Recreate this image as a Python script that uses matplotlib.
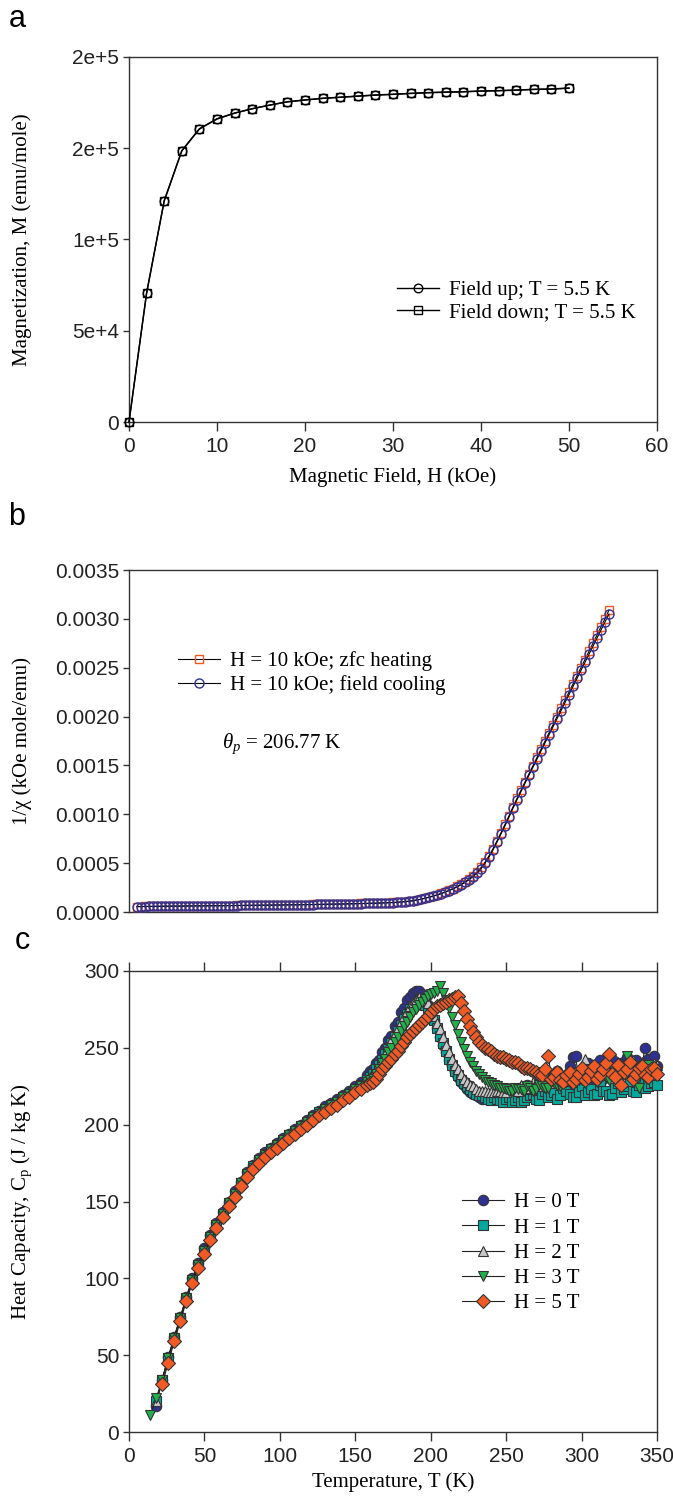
import numpy as np
import matplotlib
matplotlib.use("Agg")
import matplotlib.pyplot as plt
from matplotlib.font_manager import FontProperties

plt.rcParams['font.family'] = ['Liberation Sans', 'DejaVu Sans']
plt.rcParams['mathtext.fontset'] = 'custom'
plt.rcParams['mathtext.rm'] = 'Liberation Serif'
plt.rcParams['mathtext.it'] = 'Liberation Serif:italic'
plt.rcParams['mathtext.bf'] = 'Liberation Serif:bold'

# ---------------- Panel a data ----------------
H_field = [0, 2, 4, 6, 8, 10, 12, 14, 16, 18, 20, 22, 24, 26, 28, 30, 32, 34, 36,
           38, 40, 42, 44, 46, 48, 50]
M_up = [0, 70500, 121000, 148500, 160500, 166000, 169200, 171600, 173600, 175400,
        176400, 177300, 177900, 178500, 179100, 179500, 180000, 180400, 180700,
        180900, 181300, 181500, 181800, 182200, 182400, 182900]
M_down = [0, 70800, 121300, 148700, 160700, 166200, 169300, 171700, 173700, 175500,
          176500, 177400, 178000, 178600, 179200, 179600, 180100, 180500, 180800,
          181000, 181400, 181600, 181900, 182300, 182500, 183000]
a_yticklabels = ["0", "5e+4", "1e+5", "2e+5", "2e+5"]

# ---------------- Panel b data ----------------
T_b = [5, 7.5, 10, 12.5, 15, 17.5, 20, 22.5, 25, 27.5,
       30, 32.5, 35, 37.5, 40, 42.5, 45, 47.5, 50, 52.5,
       55, 57.5, 60, 62.5, 65, 67.5, 70, 72.5, 75, 77.5,
       80, 82.5, 85, 87.5, 90, 92.5, 95, 97.5, 100, 102.5,
       105, 107.5, 110, 112.5, 115, 117.5, 120, 122.5, 125, 127.5,
       130, 132.5, 135, 137.5, 140, 142.5, 145, 147.5, 150, 152.5,
       155, 157.5, 160, 162.5, 165, 167.5, 170, 172.5, 175, 177.5,
       180, 182.5, 185, 187.5, 190, 192.5, 195, 197.5, 200, 202.5,
       205, 207.5, 210, 212.5, 215, 217.5, 220, 222.5, 225, 227.5,
       230, 232.5, 235, 237.5, 240, 242.5, 245, 247.5, 250, 252.5,
       255, 257.5, 260, 262.5, 265, 267.5, 270, 272.5, 275, 277.5,
       280, 282.5, 285, 287.5, 290, 292.5, 295, 297.5, 300]
# 1/chi in units of 1e-4 kOe mole/emu
inv_chi_zfc_e4 = [0.56, 0.56, 0.57, 0.57, 0.58, 0.58, 0.59, 0.59, 0.60, 0.60,
                  0.61, 0.61, 0.61, 0.62, 0.62, 0.63, 0.63, 0.63, 0.64, 0.64,
                  0.65, 0.65, 0.65, 0.66, 0.66, 0.67, 0.67, 0.68, 0.68, 0.69,
                  0.69, 0.70, 0.70, 0.71, 0.71, 0.72, 0.72, 0.73, 0.73, 0.74,
                  0.74, 0.75, 0.76, 0.76, 0.77, 0.78, 0.78, 0.79, 0.80, 0.81,
                  0.81, 0.82, 0.83, 0.84, 0.85, 0.86, 0.87, 0.88, 0.89, 0.90,
                  0.91, 0.93, 0.94, 0.96, 0.98, 1.00, 1.03, 1.07, 1.11, 1.17,
                  1.24, 1.32, 1.42, 1.53, 1.64, 1.76, 1.90, 2.05, 2.22, 2.40,
                  2.61, 2.84, 3.09, 3.38, 3.71, 4.10, 4.56, 5.10, 5.75, 6.48,
                  7.28, 8.12, 8.97, 9.85, 10.76, 11.62, 12.47, 13.31, 14.15, 14.99,
                  15.82, 16.66, 17.49, 18.33, 19.16, 20.00, 20.83, 21.67, 22.50, 23.34,
                  24.17, 25.01, 25.84, 26.68, 27.51, 28.35, 29.18, 30.02, 30.90]
inv_chi_fc_e4 = [0.55, 0.56, 0.56, 0.57, 0.57, 0.58, 0.58, 0.59, 0.59, 0.60,
                 0.60, 0.60, 0.61, 0.61, 0.62, 0.62, 0.62, 0.63, 0.63, 0.64,
                 0.64, 0.64, 0.65, 0.65, 0.66, 0.66, 0.67, 0.67, 0.68, 0.68,
                 0.69, 0.69, 0.70, 0.70, 0.71, 0.71, 0.72, 0.72, 0.73, 0.73,
                 0.74, 0.74, 0.75, 0.76, 0.76, 0.77, 0.78, 0.78, 0.79, 0.80,
                 0.81, 0.81, 0.82, 0.83, 0.84, 0.85, 0.86, 0.87, 0.88, 0.89,
                 0.90, 0.92, 0.93, 0.95, 0.97, 0.99, 1.02, 1.06, 1.10, 1.15,
                 1.22, 1.30, 1.40, 1.50, 1.61, 1.73, 1.87, 2.02, 2.18, 2.36,
                 2.56, 2.78, 3.02, 3.30, 3.62, 4.00, 4.45, 4.98, 5.62, 6.35,
                 7.15, 7.98, 8.82, 9.70, 10.62, 11.48, 12.32, 13.16, 14.00, 14.83,
                 15.65, 16.48, 17.30, 18.13, 18.95, 19.78, 20.60, 21.43, 22.25, 23.08,
                 23.90, 24.73, 25.55, 26.38, 27.20, 28.03, 28.85, 29.68, 30.50]
b_yticklabels = ["0.0000", "0.0005", "0.0010", "0.0015", "0.0020", "0.0025", "0.0030", "0.0035"]

# ---------------- Panel c data ----------------
nan = float('nan')
T_c = [14, 18, 22, 26, 30, 34, 38, 42, 46, 50,
       54, 58, 62, 66, 70, 74, 78, 82, 86, 90,
       94, 98, 102, 106, 110, 114, 118, 122, 126, 130,
       134, 138, 142, 146, 150, 154, 158, 162, 166, 170,
       174, 178, 182, 186, 190, 194, 198, 202, 206, 210,
       214, 218, 222, 226, 230, 234, 238, 242, 246, 250,
       254, 258, 262, 266, 270, 274, 278, 282, 286, 290,
       294, 298, 302, 306, 310, 314, 318, 322, 326, 330,
       334, 338, 342, 346, 350]
Cp_0T = [nan, 17, 34, 49, 62, 75, 88, 100, 110, 120,
         128, 136, 143, 150, 157, 163, 169, 174, 178, 182,
         185, 188, 191, 194, 197, 200, 203, 206, 209, 212,
         214, 217, 219, 222, 225, 228, 232, 236, 242, 250,
         258, 267, 276, 283, 287, 285, 278, 268, 257, 247,
         238, 231, 226, 221, 219, 217, 218, 217, 219, 218,
         221, 220, 223, 222, 226, 224, 229, 226, 231, 228,
         244, 230, 233, 228, 236, 230, 238, 231, 240, 244,
         236, 232, 250, 236, 238]
Cp_1T = [nan, 20, 34, 48, 61, 74, 87, 99, 109, 118,
         127, 135, 142, 149, 155, 162, 168, 173, 177, 181,
         184, 187, 190, 193, 196, 199, 202, 205, 208, 210,
         213, 215, 218, 220, 223, 226, 229, 233, 239, 246,
         253, 261, 269, 275, 279, 280, 276, 268, 258, 248,
         239, 232, 227, 223, 220, 219, 217, 218, 216, 217,
         215, 218, 216, 219, 217, 220, 218, 221, 219, 222,
         218, 221, 219, 223, 220, 222, 219, 224, 221, 225,
         222, 226, 224, 227, 226]
Cp_2T = [nan, 20, 34, 48, 62, 74, 87, 99, 110, 119,
         128, 135, 142, 149, 156, 162, 168, 173, 177, 181,
         184, 187, 190, 193, 196, 199, 202, 205, 208, 211,
         213, 216, 218, 221, 223, 226, 229, 232, 238, 246,
         255, 263, 271, 277, 281, 283, 279, 271, 262, 252,
         243, 236, 230, 226, 223, 222, 221, 221, 222, 221,
         223, 222, 225, 224, 227, 225, 229, 227, 231, 229,
         233, 231, 243, 232, 236, 233, 238, 234, 239, 236,
         242, 235, 240, 237, 239]
Cp_3T = [11, 22, 34, 48, 61, 74, 87, 99, 109, 118,
         127, 135, 142, 149, 155, 162, 168, 172, 177, 180,
         184, 187, 190, 193, 196, 199, 202, 205, 207, 210,
         213, 215, 218, 220, 223, 225, 228, 230, 236, 243,
         250, 257, 264, 270, 275, 280, 284, 286, 290, 281,
         270, 259, 249, 241, 235, 231, 228, 226, 224, 223,
         222, 223, 222, 224, 223, 225, 224, 227, 225, 228,
         226, 229, 227, 231, 228, 232, 229, 233, 230, 245,
         231, 224, 233, 236, 234]
Cp_5T = [nan, nan, 31, 45, 59, 72, 85, 97, 107, 116,
         125, 133, 140, 147, 153, 160, 166, 171, 175, 179,
         182, 185, 188, 191, 194, 197, 200, 203, 206, 208,
         211, 213, 216, 218, 221, 223, 226, 228, 233, 238,
         243, 248, 254, 259, 263, 267, 271, 275, 278, 280,
         282, 284, 274, 264, 257, 252, 249, 246, 244, 243,
         241, 240, 237, 236, 234, 232, 245, 231, 229, 232,
         228, 233, 229, 235, 230, 236, 246, 231, 226, 236,
         230, 237, 232, 236, 233]

# additional readings between the grid above (160-348 K)
T_c_hi = [160, 164, 168, 172, 176, 180, 184, 188, 192, 196,
          200, 204, 208, 212, 216, 220, 224, 228, 232, 236,
          240, 244, 248, 252, 256, 260, 264, 268, 272, 276,
          280, 284, 288, 292, 296, 300, 304, 308, 312, 316,
          320, 324, 328, 332, 336, 340, 344, 348]
Cp_0T_hi = [235, 240, 247, 255, 264, 273, 281, 286, 287, 282,
            274, 263, 252, 242, 234, 228, 223, 220, 218, 218,
            217, 219, 220, 219, 223, 222, 226, 224, 228, 233,
            227, 235, 230, 238, 245, 232, 240, 234, 242, 235,
            243, 236, 241, 235, 242, 238, 243, 245]
Cp_1T_hi = [231, 236, 242, 249, 257, 265, 272, 277, 280, 278,
            272, 263, 253, 243, 235, 229, 225, 221, 219, 218,
            216, 217, 215, 218, 216, 215, 218, 220, 216, 222,
            219, 217, 224, 220, 218, 225, 221, 219, 226, 222,
            220, 227, 223, 228, 221, 229, 225, 228]
Cp_2T_hi = [231, 236, 243, 251, 259, 267, 274, 279, 283, 281,
            275, 266, 257, 247, 239, 233, 228, 225, 222, 222,
            221, 222, 221, 224, 223, 226, 223, 228, 226, 230,
            228, 233, 230, 235, 232, 237, 233, 239, 235, 240,
            236, 241, 237, 243, 238, 241, 238, 240]
Cp_3T_hi = [229, 233, 240, 247, 254, 261, 267, 273, 278, 282,
            285, 287, 286, 276, 265, 254, 245, 238, 233, 229,
            227, 225, 224, 222, 224, 223, 225, 222, 226, 224,
            228, 226, 230, 227, 232, 229, 234, 230, 235, 231,
            236, 232, 237, 233, 238, 234, 239, 236]
Cp_5T_hi = [227, 230, 236, 241, 246, 251, 257, 261, 265, 269,
            273, 277, 279, 281, 283, 279, 269, 260, 254, 250,
            248, 245, 244, 242, 241, 238, 237, 235, 233, 236,
            230, 234, 228, 234, 230, 237, 231, 238, 232, 240,
            233, 239, 234, 241, 233, 238, 231, 237]
c_labels = ["H = 0 T", "H = 1 T", "H = 2 T", "H = 3 T", "H = 5 T"]

# ---------------- Figure ----------------
W, Hh = 673, 1498
fig = plt.figure(figsize=(W / 100, Hh / 100), dpi=100)


def rect(l, r, t, b):
    return [l / W, 1 - b / Hh, (r - l) / W, (b - t) / Hh]


ax_a = fig.add_axes(rect(129, 657, 57, 422))
ax_b = fig.add_axes(rect(129, 657, 570, 912))
ax_c = fig.add_axes(rect(129, 657, 971, 1432))

serif = 'Liberation Serif'
lab_fs = 15
tick_fs = 15
leg_prop = FontProperties(family=serif, size=15)
spine_col = '#333333'

for ax in (ax_a, ax_b, ax_c):
    for s in ax.spines.values():
        s.set_linewidth(1.0)
        s.set_color(spine_col)
    ax.tick_params(axis='both', direction='out', labelsize=tick_fs, width=1.0,
                   color=spine_col, labelcolor='#222222')
    ax.tick_params(axis='x', length=6.5, pad=4)
    ax.tick_params(axis='y', length=4, pad=3)

# ---- panel a ----
ax_a.plot(H_field, M_up, color='black', lw=1.0, marker='o', ms=6.2, mfc='none',
          mec='black', mew=1.0, label='Field up; T = 5.5 K', clip_on=False, zorder=3)
ax_a.plot(H_field, M_down, color='black', lw=1.0, marker='s', ms=5.6, mfc='none',
          mec='black', mew=1.0, label='Field down; T = 5.5 K', clip_on=False, zorder=3)
ax_a.set_xlim(0, 60)
ax_a.set_ylim(0, 200000)
ax_a.set_xticks(np.arange(0, 61, 10))
ax_a.set_yticks(np.linspace(0, 200000, 5))
ax_a.set_yticklabels(a_yticklabels)
ax_a.set_xlabel('Magnetic Field, H (kOe)', family=serif, fontsize=lab_fs)
ax_a.set_ylabel('Magnetization, M (emu/mole)', family=serif, fontsize=lab_fs, va='center')
ax_a.yaxis.set_label_coords((22 - 129) / 528, 0.5)
ax_a.xaxis.set_label_coords(0.5, -(477 - 422) / 365)
ax_a.xaxis.label.set_va('center')
ax_a.legend(loc='center left', bbox_to_anchor=((397 - 129) / 528, (422 - 301.5) / 365),
            prop=leg_prop, frameon=False, handlelength=2.0, handletextpad=0.5,
            labelspacing=0.12, borderpad=0, borderaxespad=0, numpoints=1)

# ---- panel b ----
ax_b.plot(T_b, np.array(inv_chi_zfc_e4) * 1e-4, color='black', lw=0.8, marker='s', ms=6.0,
          mfc='none', mec='#f15a24', mew=1.0, label='H = 10 kOe; zfc heating',
          clip_on=False, zorder=3)
ax_b.plot(T_b, np.array(inv_chi_fc_e4) * 1e-4, color='black', lw=0.8, marker='o', ms=6.5,
          mfc='none', mec='#2e3192', mew=1.0, label='H = 10 kOe; field cooling',
          clip_on=False, zorder=4)
ax_b.set_xlim(0, 330)
ax_b.set_ylim(0, 0.0035)
ax_b.set_xticks([])
ax_b.set_yticks(np.linspace(0, 0.0035, 8))
ax_b.set_yticklabels(b_yticklabels)
ax_b.set_ylabel('1/χ (kOe mole/emu)', family=serif, fontsize=lab_fs, va='center')
ax_b.yaxis.set_label_coords((22 - 129) / 528, 0.5)
ax_b.legend(loc='center left', bbox_to_anchor=((178 - 129) / 528, (912 - 673) / 342),
            prop=leg_prop, frameon=False, handlelength=2.0, handletextpad=0.5,
            labelspacing=0.2, borderpad=0, borderaxespad=0, numpoints=1)
ax_b.text((222 - 129) / 528, (912 - 744) / 342, r'$\theta_p$ = 206.77 K',
          transform=ax_b.transAxes, family=serif, fontsize=15, va='center', ha='left')

# ---- panel c ----
T_all = np.array(T_c + T_c_hi, dtype=float)
order = np.argsort(T_all, kind='stable')
c_series = [(Cp_0T, Cp_0T_hi), (Cp_1T, Cp_1T_hi), (Cp_2T, Cp_2T_hi),
            (Cp_3T, Cp_3T_hi), (Cp_5T, Cp_5T_hi)]
c_markers = ['o', 's', '^', 'v', 'D']
c_colors = ['#2e3192', '#00a99d', '#c8c8c8', '#22b04b', '#f15a24']
c_ms = [7.5, 7.0, 7.5, 7.5, 6.8]
for (v_lo, v_hi), mk, col, ms, lab in zip(c_series, c_markers, c_colors, c_ms, c_labels):
    vals = np.array(v_lo + v_hi, dtype=float)[order]
    ax_c.plot(T_all[order], vals, color='#222222', lw=0.8, marker=mk, ms=ms, mfc=col,
              mec='#333333', mew=0.8, label=lab, clip_on=False, zorder=3)
ax_c.set_xlim(0, 350)
ax_c.set_ylim(0, 300)
ax_c.set_xticks(np.arange(0, 351, 50))
ax_c.set_yticks(np.arange(0, 301, 50))
ax_c.tick_params(axis='x', top=True, labeltop=False)
ax_c.set_xlabel('Temperature, T (K)', family=serif, fontsize=lab_fs)
ax_c.xaxis.set_label_coords(0.5, -(1482 - 1432) / 461)
ax_c.xaxis.label.set_va('center')
ax_c.set_ylabel(r'Heat Capacity, C$_\mathrm{p}$ (J / kg K)', family=serif, fontsize=lab_fs,
                va='center')
ax_c.yaxis.set_label_coords((22 - 129) / 528, 0.5)
ax_c.legend(loc='center left', bbox_to_anchor=((462 - 129) / 528, (1432 - 1253) / 461),
            prop=leg_prop, frameon=False, handlelength=2.0, handletextpad=0.5,
            labelspacing=0.27, borderpad=0, borderaxespad=0, numpoints=1)

# panel letters
for letter, (px, py) in zip(['a', 'b', 'c'], [(17, 19), (17, 517), (22, 941)]):
    fig.text(px / W, 1 - py / Hh, letter, fontsize=22, family='Liberation Sans',
             ha='center', va='center')

fig.savefig('out.png', dpi=100)
